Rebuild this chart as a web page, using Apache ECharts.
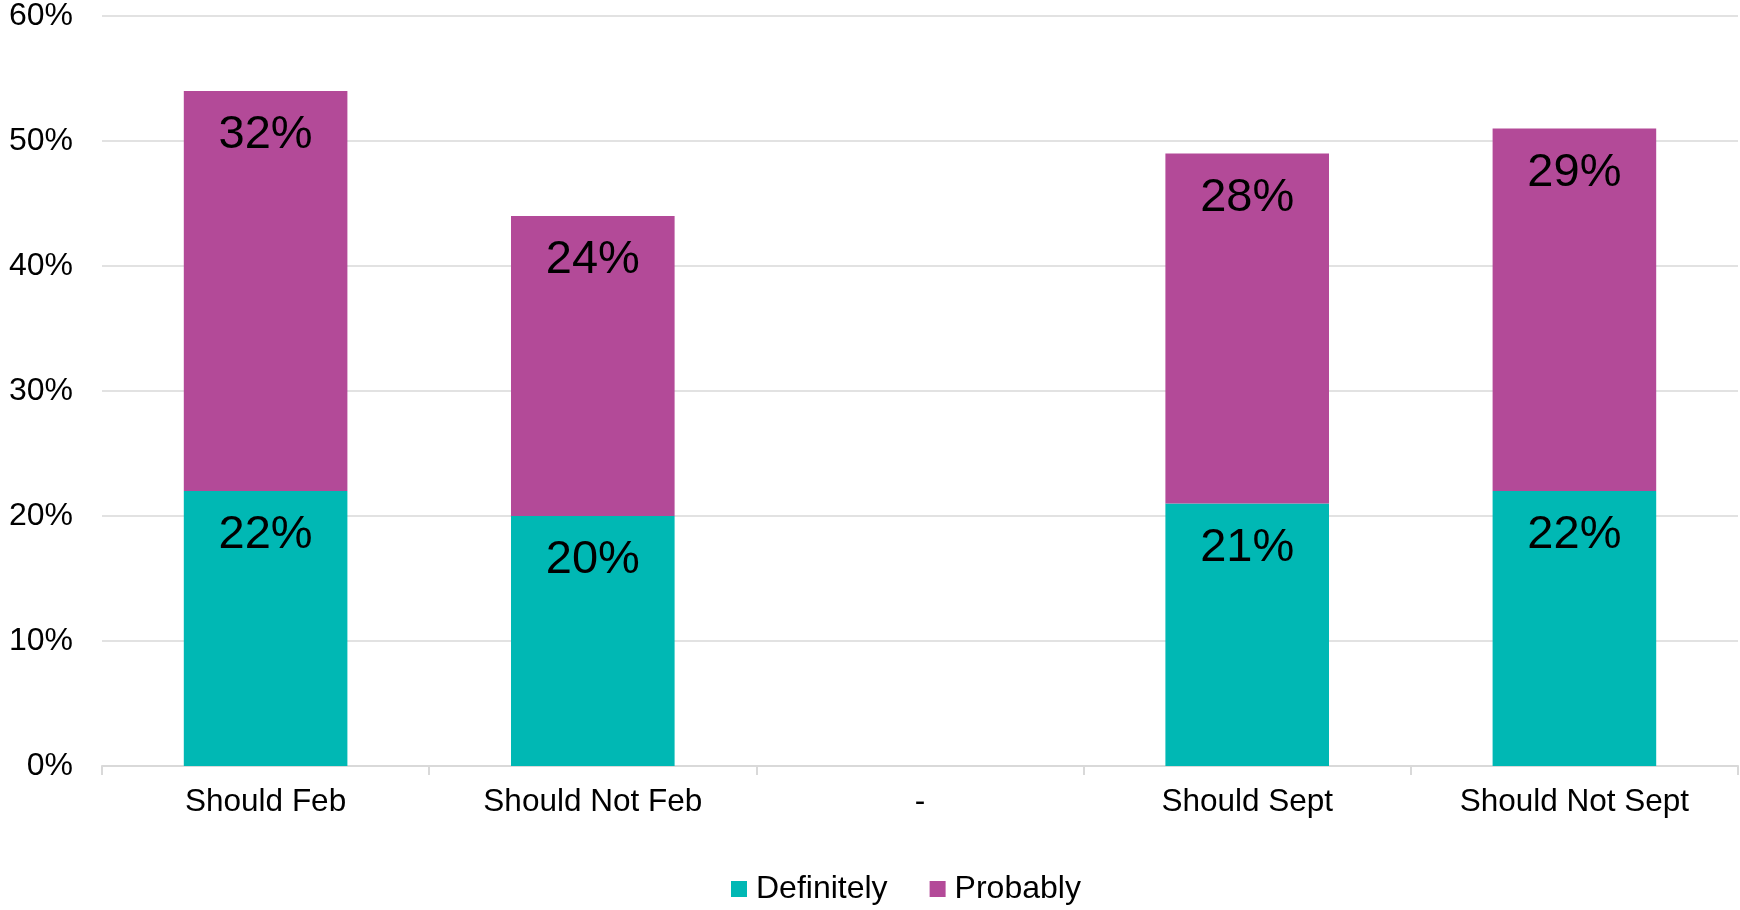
<!DOCTYPE html>
<html>
<head>
<meta charset="utf-8">
<script src="https://cdn.jsdelivr.net/npm/echarts@6/dist/echarts.min.js"></script>
<style>
html,body{margin:0;padding:0;background:#fff;}
#chart{width:1740px;height:910px;}
</style>
</head>
<body>
<div id="chart"></div>
<script>
const categories = ['Should Feb', 'Should Not Feb', '-', 'Should Sept', 'Should Not Sept'];
const definitely = [22, 20, null, 21, 22];
const probably = [32, 24, null, 28, 29];
const yTicks = [0, 10, 20, 30, 40, 50, 60];
const seriesNames = ['Definitely', 'Probably'];
const seriesColors = ['#00B8B4', '#B34A98'];

const FONT = '"Liberation Sans", Arial, sans-serif';
const chart = echarts.init(document.getElementById('chart'), null, {renderer: 'canvas'});

const barLabel = {
  show: true,
  position: 'insideTop',
  distance: 21,
  color: '#000',
  fontFamily: FONT,
  fontSize: 47,
  formatter: p => (p.value == null ? '' : p.value + '%')
};

// Legend drawn as graphic elements (the legend component would not sit low enough)
const LEG_FONT = 32;
const measureCtx = document.createElement('canvas').getContext('2d');
measureCtx.font = LEG_FONT + 'px ' + FONT;
const legendGraphics = [];
let lx = 731;
const legendCenterY = 889;
seriesNames.forEach((name, i) => {
  legendGraphics.push({
    type: 'rect',
    x: lx, y: legendCenterY - 8,
    shape: {x: 0, y: 0, width: 16, height: 16},
    style: {fill: seriesColors[i]},
    silent: true
  });
  legendGraphics.push({
    type: 'text',
    x: lx + 25, y: legendCenterY,
    style: {text: name, font: LEG_FONT + 'px ' + FONT, fill: '#000', verticalAlign: 'middle', align: 'left'},
    silent: true
  });
  lx += 25 + measureCtx.measureText(name).width + 42;
});

chart.setOption({
  animation: false,
  backgroundColor: '#fff',
  textStyle: {fontFamily: FONT},
  grid: {left: 102, right: 2, top: 16, bottom: 144, containLabel: false},
  legend: {show: false, data: seriesNames},
  graphic: {elements: legendGraphics},
  xAxis: {
    type: 'category',
    data: categories,
    boundaryGap: true,
    axisLine: {show: true, lineStyle: {color: '#d9d9d9', width: 2}},
    axisTick: {show: true, length: 9, lineStyle: {color: '#d9d9d9', width: 2}},
    axisLabel: {color: '#000', fontFamily: FONT, fontSize: 31.5, margin: 20}
  },
  yAxis: {
    type: 'value',
    min: yTicks[0],
    max: yTicks[yTicks.length - 1],
    interval: 10,
    axisLine: {show: false},
    axisTick: {show: false},
    axisLabel: {color: '#000', fontFamily: FONT, fontSize: 32, margin: 29, formatter: '{value}%'},
    splitLine: {show: true, lineStyle: {color: '#d9d9d9', width: 1.5}}
  },
  series: [
    {
      name: seriesNames[0],
      type: 'bar',
      stack: 'total',
      barWidth: '50%',
      data: definitely,
      itemStyle: {color: seriesColors[0]},
      label: barLabel
    },
    {
      name: seriesNames[1],
      type: 'bar',
      stack: 'total',
      barWidth: '50%',
      data: probably,
      itemStyle: {color: seriesColors[1]},
      label: barLabel
    }
  ]
});
</script>
</body>
</html>
